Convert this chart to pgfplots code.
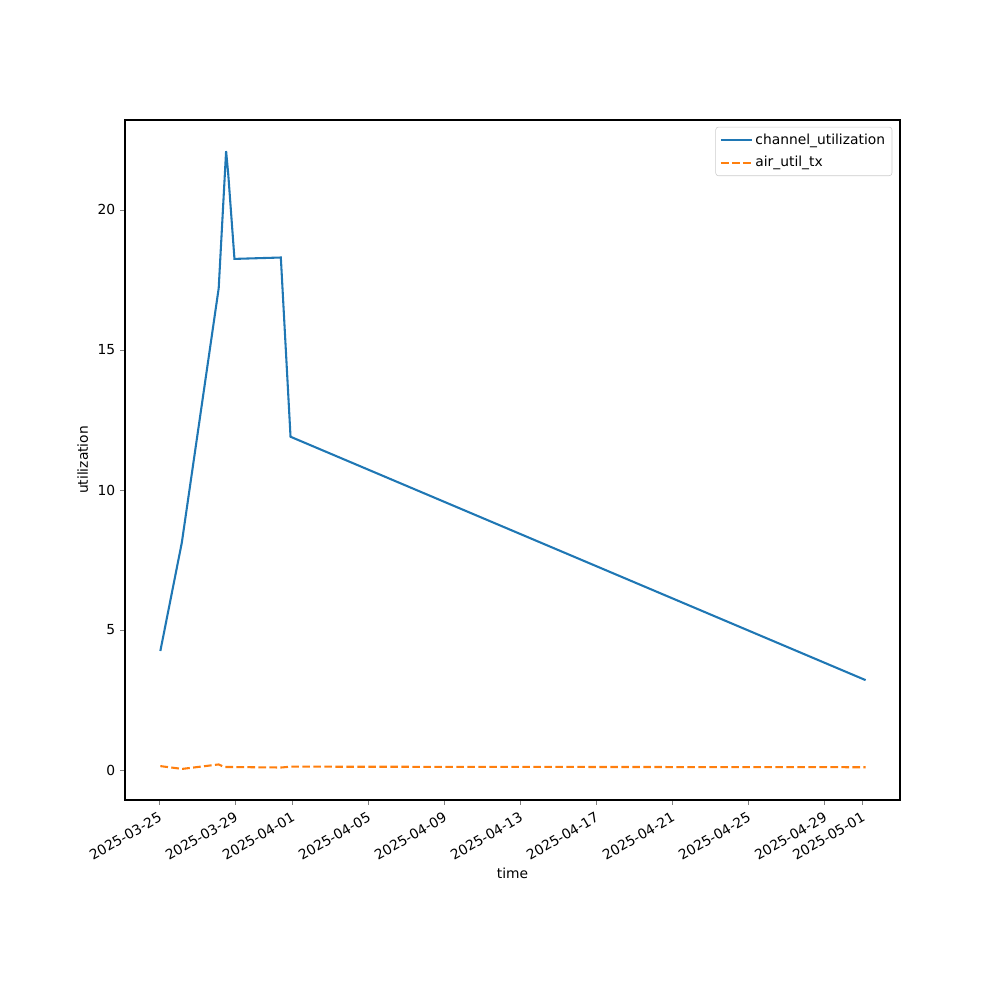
\documentclass[border=0pt]{standalone}
\usepackage{pgfplots}
\pgfplotsset{compat=1.18}
\usepackage{fontspec}
\setmainfont{DejaVu Sans}
\definecolor{mplblue}{HTML}{1F77B4}
\definecolor{mplorange}{HTML}{FF7F0E}
\begin{document}
\begin{tikzpicture}
\path[use as bounding box] (-1.25in,-2in) rectangle (8.75in,8in);
\begin{axis}[
  at={(0,0)}, anchor=south west,
  scale only axis, width=7.75in, height=6.8in,
  xmin=-1.81, xmax=38.97, ymin=-1.07, ymax=23.21,
  xtick={0,4,7,11,15,19,23,27,31,35,37},
  xticklabels={2025-03-25,2025-03-29,2025-04-01,2025-04-05,2025-04-09,2025-04-13,2025-04-17,2025-04-21,2025-04-25,2025-04-29,2025-05-01},
  xticklabel style={rotate=30, anchor=north east, font=\fontsize{10}{12}\selectfont},
  ytick={0,5,10,15,20},
  yticklabel style={font=\fontsize{10}{12}\selectfont},
  /pgf/number format/assume math mode=true,
  tick align=outside, tick pos=left,
  major tick length=3.5pt,
  xlabel={time}, ylabel={utilization},
  label style={font=\fontsize{10}{12}\selectfont},
  xlabel style={yshift=3pt},
  axis line style={line width=0.8pt},
  legend style={font=\fontsize{10}{12}\selectfont, draw=black!20, rounded corners=2pt, at={(0.99,0.99)}, anchor=north east, row sep=3pt, inner ysep=3pt},
  legend cell align=left,
  legend image post style={xscale=1.3},
]
\addplot[mplblue, line width=1.5pt] coordinates {
 (0.05,4.25) (1.18,8.12) (3.12,17.2) (3.51,22.1) (3.62,21.3) (3.95,18.25) (6.39,18.3) (6.9,11.9) (37.16,3.21)
};
\addlegendentry{channel\_utilization}
\addplot[mplorange, line width=1.5pt, dash pattern=on 5.55pt off 2.4pt] coordinates {
 (0.05,0.14) (1.2,0.04) (3.12,0.2) (3.4,0.11) (6.4,0.09) (6.9,0.12) (37.16,0.1)
};
\addlegendentry{air\_util\_tx}
\end{axis}
\end{tikzpicture}
\end{document}
